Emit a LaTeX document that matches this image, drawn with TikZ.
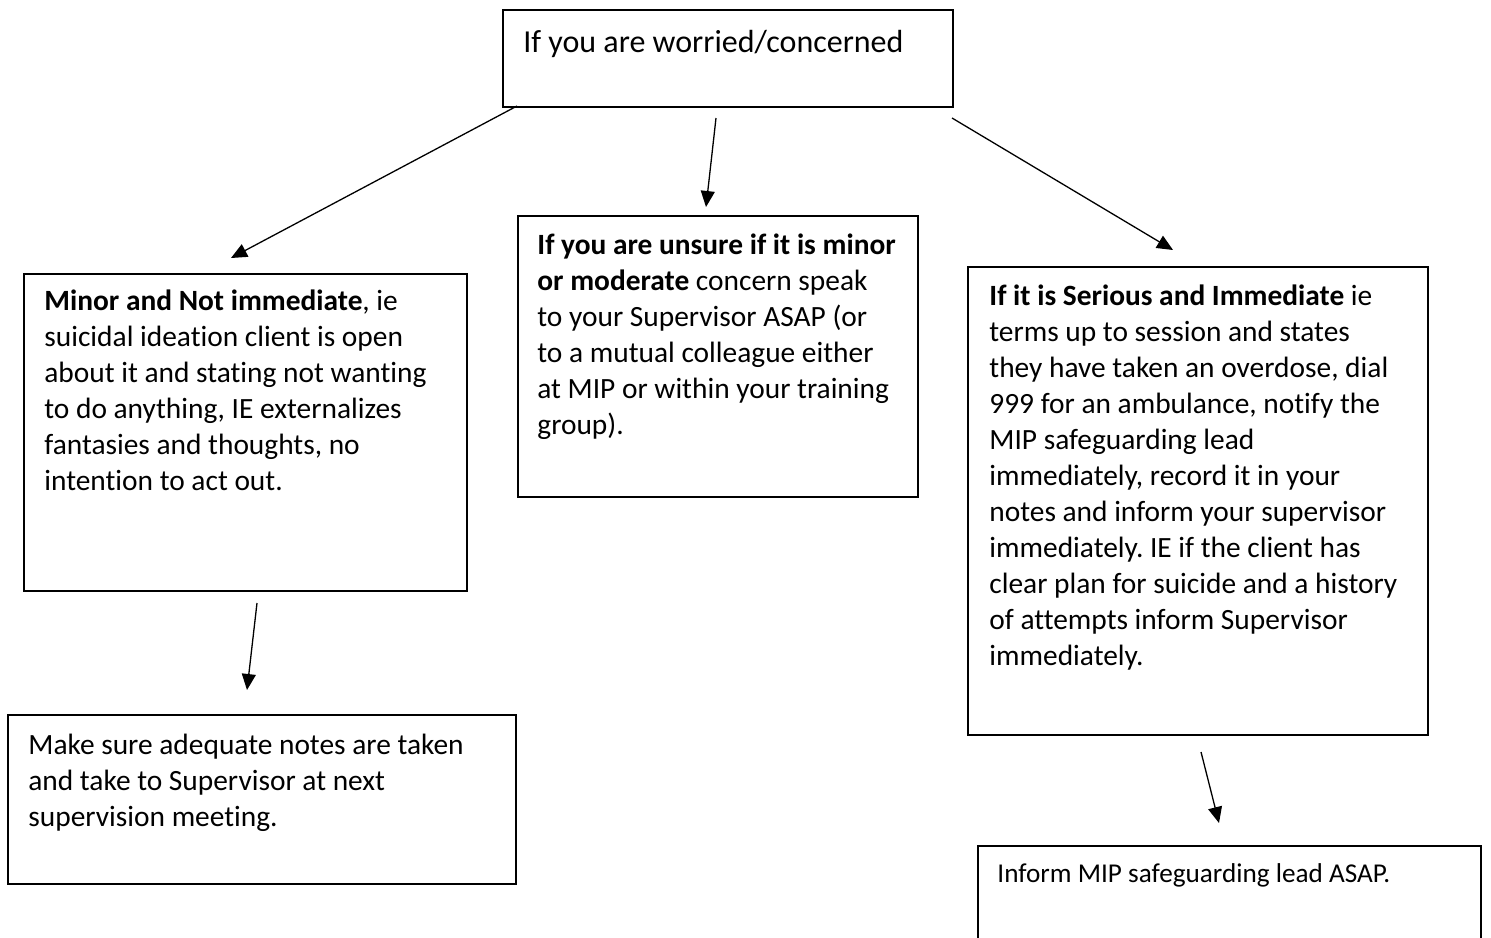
\documentclass[tikz,border=0pt]{standalone}
\usepackage{fontspec}
\setmainfont{Carlito}[Ligatures=NoCommon]
\usetikzlibrary{arrows.meta,positioning}
\frenchspacing

\tikzset{
    panel/.style={draw, line width=1pt, anchor=north west, inner sep=0pt},
    panetext/.style={anchor=north west, align=left, inner sep=0pt,
        font=\fontsize{14.7pt}{18pt}\selectfont, execute at begin node=\strut},
    flow/.style={-{Triangle[length=8pt,width=7pt]}, line width=0.65pt}
}

\begin{document}
\begin{tikzpicture}[x=0.5pt, y=-0.5pt]
    \useasboundingbox (0,0) rectangle (1491,937);

    % 顶部框
    \node[panel, minimum width=450*0.5pt, minimum height=97*0.5pt] (topbox) at (502,9) {};
    \node[anchor=base west, inner sep=0pt, font=\fontsize{16pt}{19pt}\selectfont] (toptext) at (523,52) {If you are worried/concerned};

    % 左侧框（轻微）
    \node[panel, minimum width=443*0.5pt, minimum height=317*0.5pt] (minorbox) at (23,273) {};
    \node[panetext] (minortext) at (44,289) {\textbf{Minor and Not immediate}, ie\\
        suicidal ideation client is open\\
        about it and stating not wanting\\
        to do anything, IE externalizes\\
        fantasies and thoughts, no\\
        intention to act out.};

    % 中间框（不确定）
    \node[panel, minimum width=400*0.5pt, minimum height=281*0.5pt] (unsurebox) at (517,215) {};
    \node[panetext] (unsuretext) at (537,233.5) {\textbf{If you are unsure if it is minor}\\
        \textbf{or moderate} concern speak\\
        to your Supervisor ASAP (or\\
        to a mutual colleague either\\
        at MIP or within your training\\
        group).};

    % 右侧框（严重）
    \node[panel, minimum width=460*0.5pt, minimum height=468*0.5pt] (seriousbox) at (967,266) {};
    \node[panetext] (serioustext) at (989,284.5) {\textbf{If it is Serious and Immediate} ie\\
        terms up to session and states\\
        they have taken an overdose, dial\\
        999 for an ambulance, notify the\\
        MIP safeguarding lead\\
        immediately, record it in your\\
        notes and inform your supervisor\\
        immediately. IE if the client has\\
        clear plan for suicide and a history\\
        of attempts inform Supervisor\\
        immediately.};

    % 左下框
    \node[panel, minimum width=508*0.5pt, minimum height=169*0.5pt] (notesbox) at (7,714) {};
    \node[panetext] (notestext) at (28,733.5) {Make sure adequate notes are taken\\
        and take to Supervisor at next\\
        supervision meeting.};

    % 右下框（超出下边界）
    \node[panel, minimum width=503*0.5pt, minimum height=130*0.5pt] (informbox) at (977,845) {};
    \node[anchor=base west, inner sep=0pt, font=\fontsize{13.6pt}{16pt}\selectfont] (informtext) at (997,882) {Inform MIP safeguarding lead ASAP.};

    % 箭头端点
    \coordinate (a1s) at (517,106);  \coordinate (a1e) at (231,258);
    \coordinate (a2s) at (716,118);  \coordinate (a2e) at (706,207);
    \coordinate (a3s) at (952,118);  \coordinate (a3e) at (1173,250);
    \coordinate (a4s) at (257,603);  \coordinate (a4e) at (247,690);
    \coordinate (a5s) at (1201,752); \coordinate (a5e) at (1219,823);

    % 箭头
    \foreach \i in {1,...,5} {
        \draw[flow] (a\i s) -- (a\i e);
    }
\end{tikzpicture}
\end{document}
